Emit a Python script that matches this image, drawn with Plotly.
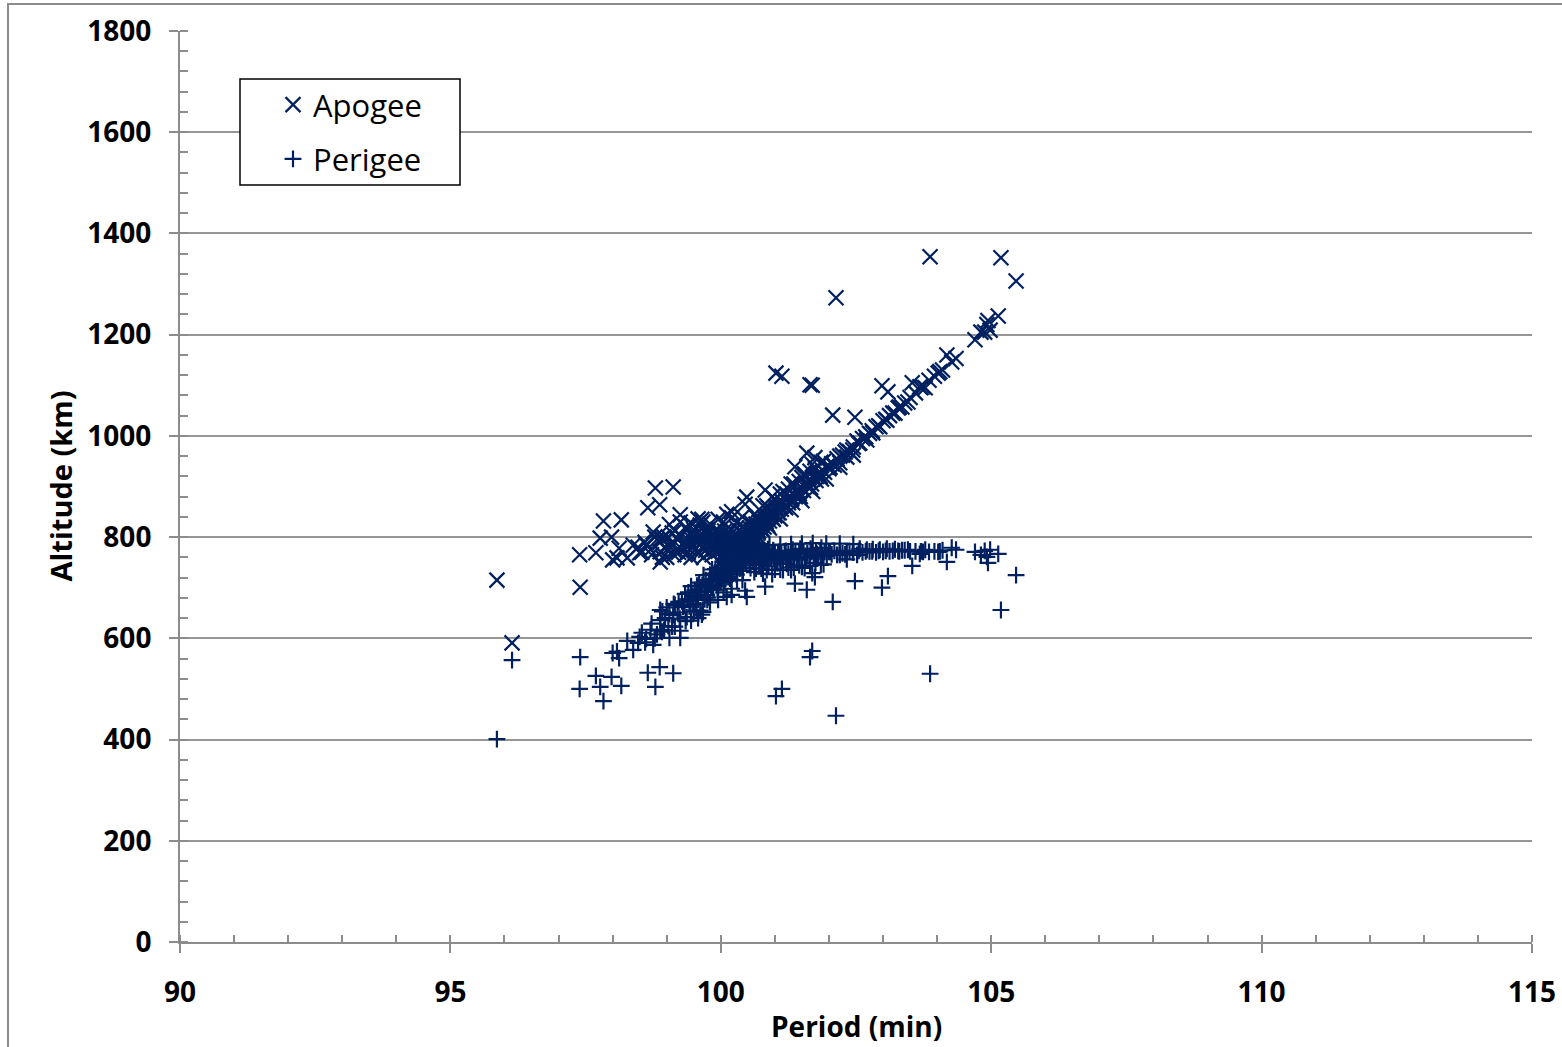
import plotly.graph_objects as go

# Each object: orbital period (min), apogee altitude (km), perigee altitude (km)
period_min = [
    95.86, 96.14, 97.40, 97.39, 97.69, 97.83, 97.77, 97.98, 98.16, 98.00,
    98.12, 98.27, 98.50, 98.47, 98.54, 98.65, 98.79, 98.87, 99.12, 99.25,
    98.88, 98.88, 98.88, 98.97, 98.78, 99.12, 99.30, 99.49, 99.58, 99.67,
    99.62, 99.37, 99.75, 99.86, 100.11, 100.48, 99.98, 100.82, 101.37, 101.59,
    101.69, 101.02, 101.13, 101.65, 101.69, 102.13, 103.87, 105.18, 105.46, 102.07,
    102.48, 102.98, 103.09, 103.54, 104.18, 104.27, 104.92, 104.81, 104.98, 105.13,
    104.94, 103.46, 103.74, 104.02, 103.68, 103.78, 103.35, 103.22, 103.07, 102.94,
    102.81, 102.70, 102.57, 102.44, 102.33, 102.33, 102.20, 101.74, 98.91, 98.08,
    98.38,
    # left band
    99.05, 99.15, 99.20, 99.28, 99.33, 99.40, 99.42, 99.48, 99.52, 99.55,
    99.60, 99.62, 99.66, 99.70, 99.72, 99.75, 99.78, 99.80, 99.82, 99.85,
    99.88, 99.90, 99.92, 99.95, 99.97, 100.00, 100.02, 100.04, 100.06, 100.08,
    100.10, 100.12, 100.14, 100.16, 100.18, 100.20, 100.22, 100.24, 100.26, 100.28,
    100.30, 100.32, 100.34, 100.36, 100.38, 100.40, 100.42, 100.44, 100.46,
    98.60, 98.70, 98.75, 98.95, 99.00, 99.10, 99.22, 99.35, 99.45, 99.50,
    99.58, 99.68, 99.76, 99.95, 100.05, 100.15, 100.25, 100.35,
    98.62, 98.72, 98.82, 98.92, 99.03, 99.13, 99.24, 99.34, 99.44, 99.54,
    99.64, 99.74, 99.84, 99.94, 99.70, 99.56, 99.38,
    99.05, 99.25, 99.45, 99.65, 99.80, 99.95, 100.05, 100.20, 99.15, 99.55,
    # right band
    100.52, 100.55, 100.58, 100.60, 100.62, 100.65, 100.68, 100.70, 100.72, 100.75,
    100.78, 100.80, 100.83, 100.85, 100.88, 100.90, 100.93, 100.95, 100.98, 101.00,
    101.03, 101.06, 101.09, 101.12, 101.15, 101.18, 101.21, 101.25, 101.28, 101.31,
    101.35, 101.38, 101.42, 101.45, 101.49, 101.53, 101.56, 101.60, 101.64, 101.68,
    101.72, 101.76, 101.80, 101.84, 101.88, 101.92, 101.96, 102.00, 102.05, 102.10,
    102.15, 102.25, 102.38, 102.52, 102.62, 102.75, 102.87, 103.00, 103.12, 103.28,
    103.40, 103.60, 103.85, 103.95, 104.05,
    100.70, 100.90, 101.10, 101.30, 101.50, 101.70, 101.95, 102.20, 102.45,
    # fan
    100.55, 100.62, 100.70, 100.78, 100.88, 100.95, 101.05, 101.15, 101.22, 101.30,
    101.45, 101.55, 101.75, 101.90, 100.40, 100.30, 100.20, 100.45,
    100.65, 100.75, 100.85, 101.00, 101.10, 101.25, 101.35, 101.50, 101.65, 101.85,
    # core
    100.45, 100.48, 100.50, 100.50, 100.53, 100.55, 100.58, 100.40, 100.43, 100.47,
    100.37, 100.52, 100.56, 100.60, 100.49,
    99.85, 99.90, 99.93, 99.96, 100.00, 100.03, 100.05, 100.07, 100.09, 100.11,
    100.13, 100.15, 100.17, 100.19, 100.21, 100.23, 100.25, 100.27, 100.29, 100.31,
    100.33, 100.35, 100.37, 100.39, 100.41, 100.43, 100.45, 100.47, 100.49, 100.51,
    100.53, 100.55, 100.57, 100.59, 100.61, 100.63, 100.65, 100.67, 100.69, 100.71,
    100.74, 100.77, 100.80, 100.84, 100.87, 100.92, 100.97, 101.02, 101.08, 101.14,
    101.20, 101.26, 101.33, 101.40, 101.47, 101.58, 101.66, 101.78, 101.86, 102.02,
    # right extra
    102.20, 102.30, 102.45, 102.55, 102.68, 102.80, 102.92, 103.05, 103.18, 103.30,
    103.50, 103.70, 104.10, 104.35, 104.70, 104.88,
]

apogee_km = [
    715, 591, 701, 765, 769, 832, 798, 800, 834, 755,
    778, 759, 769, 780, 770, 858, 897, 864, 899, 844,
    751, 790, 771, 778, 800, 786, 788, 800, 836, 830,
    824, 814, 815, 806, 845, 879, 800, 893, 939, 966,
    944, 1124, 1118, 1101, 1100, 1273, 1354, 1352, 1306, 1041,
    1037, 1099, 1087, 1105, 1160, 1146, 1220, 1205, 1209, 1237,
    1228, 1067, 1097, 1124, 1097, 1095, 1057, 1045, 1031, 1018,
    1006, 992, 986, 972, 958, 972, 947, 957, 798, 759,
    784,
    780, 772, 795, 776, 790, 770, 800, 782, 775, 792,
    768, 786, 778, 795, 774, 788, 781, 770, 798, 784,
    776, 792, 780, 772, 788, 778, 795, 784, 770, 790,
    780, 799, 786, 775, 792, 782, 770, 796, 786, 778,
    790, 782, 800, 788, 778, 792, 784, 796, 788,
    790, 775, 810, 800, 760, 808, 770, 820, 760, 815,
    800, 760, 812, 808, 765, 810, 765, 812,
    785, 765, 795, 760, 800, 765, 805, 765, 790, 805,
    790, 805, 765, 815, 810, 770, 780,
    825, 830, 828, 835, 826, 835, 830, 838, 812, 818,
    795, 800, 806, 798, 810, 805, 818, 812, 822, 815,
    828, 820, 833, 826, 840, 832, 845, 838, 850, 842,
    855, 848, 862, 855, 868, 860, 874, 868, 880, 875,
    885, 880, 892, 886, 898, 892, 905, 900, 912, 905,
    918, 912, 925, 920, 932, 928, 940, 935, 945, 942,
    955, 962, 969, 990, 995, 1005, 1018, 1030, 1040, 1055,
    1065, 1085, 1110, 1118, 1127,
    800, 818, 836, 854, 872, 890, 915, 938, 962,
    830, 845, 838, 862, 858, 880, 868, 890, 885, 905,
    910, 925, 935, 950, 840, 830, 850, 865,
    840, 850, 862, 875, 885, 895, 905, 918, 930, 948,
    782, 790, 786, 795, 790, 785, 795, 780, 790, 778,
    785, 780, 792, 788, 800,
    800, 770, 805, 790, 805, 775, 800, 812, 776, 806,
    790, 770, 815, 798, 785, 810, 792, 776, 818, 800,
    786, 776, 808, 795, 822, 805, 795, 812, 800, 790,
    818, 804, 796, 822, 812, 800, 826, 815, 808, 830,
    822, 815, 838, 830, 823, 845, 835, 860, 848, 870,
    858, 880, 868, 892, 880, 908, 898, 920, 915, 938,
    960, 968, 978, 985, 998, 1010, 1020, 1033, 1045, 1057,
    1076, 1095, 1130, 1153, 1190, 1205,
]

perigee_km = [
    401, 557, 563, 500, 526, 476, 504, 524, 506, 571,
    561, 595, 603, 591, 611, 532, 504, 543, 531, 601,
    656, 617, 636, 640, 600, 646, 662, 666, 640, 652,
    655, 642, 676, 696, 682, 682, 715, 702, 708, 696,
    729, 486, 500, 563, 575, 447, 530, 656, 725, 672,
    713, 700, 723, 743, 751, 779, 761, 765, 775, 767,
    749, 775, 771, 771, 767, 775, 774, 776, 777, 775,
    776, 775, 777, 770, 770, 756, 770, 721, 613, 574,
    577,
    648, 666, 651, 673, 664, 691, 663, 684, 695, 681,
    710, 694, 705, 692, 715, 703, 713, 726, 700, 717,
    728, 714, 728, 739, 725, 738, 723, 736, 752, 734,
    746, 729, 744, 757, 742, 754, 768, 744, 756, 766,
    756, 766, 750, 764, 776, 764, 774, 764, 774,
    592, 617, 587, 616, 661, 623, 672, 634, 703, 653,
    676, 725, 681, 703, 756, 721, 775, 738,
    599, 629, 608, 653, 624, 668, 639, 688, 673, 667,
    692, 686, 736, 696, 677, 704, 677,
    601, 615, 635, 647, 671, 676, 691, 698, 623, 655,
    771, 769, 766, 776, 766, 774, 763, 771, 763, 773,
    762, 773, 763, 772, 760, 770, 760, 769, 760, 769,
    759, 769, 758, 768, 757, 768, 757, 767, 758, 766,
    760, 770, 759, 768, 760, 770, 760, 768, 760, 771,
    763, 773, 762, 771, 763, 771, 763, 771, 766, 773,
    765, 768, 773, 765, 770, 772, 770, 771, 772, 773,
    774, 772, 771, 772, 772,
    783, 784, 785, 786, 787, 788, 787, 787, 786,
    739, 731, 745, 728, 742, 727, 748, 735, 747, 735,
    744, 739, 749, 746, 715, 715, 686, 694,
    738, 738, 735, 736, 736, 740, 740, 741, 743, 745,
    777, 772, 778, 769, 777, 784, 777, 774, 767, 783,
    766, 786, 778, 786, 763,
    702, 737, 705, 722, 711, 744, 721, 711, 749, 721,
    739, 761, 718, 736, 751, 728, 748, 766, 726, 746,
    762, 774, 744, 758, 733, 752, 764, 749, 763, 775,
    749, 765, 775, 751, 763, 776, 752, 765, 774, 754,
    765, 775, 755, 766, 776, 759, 774, 753, 771, 755,
    773, 756, 775, 758, 777, 760, 777, 767, 779, 771,
    765, 766, 770, 773, 772, 772, 773, 773, 773, 772,
    772, 772, 774, 775, 771, 773,
]

series_names = ["Apogee", "Perigee"]
x_ticks = [90, 95, 100, 105, 110, 115]
y_ticks = [0, 200, 400, 600, 800, 1000, 1200, 1400, 1600, 1800]

NAVY = "#002060"
GRID = "#969696"
AXIS = "#8c8c8c"
FONT = "Open Sans"

fig = go.Figure()
fig.add_trace(go.Scatter(
    x=period_min, y=apogee_km, mode="markers", name=series_names[0],
    legendgroup="a",
    marker=dict(symbol="x-thin", size=15, color=NAVY,
                line=dict(color=NAVY, width=2.2)),
))
fig.add_trace(go.Scatter(
    x=period_min, y=perigee_km, mode="markers", name=series_names[1],
    legendgroup="p",
    marker=dict(symbol="cross-thin", size=12, color=NAVY,
                line=dict(color=NAVY, width=2.2)),
))

W, H = 1562, 1047
L, R, T, B = 180, 30, 31, 105
pw, ph = W - L - R, H - T - B


def px_x(p):
    return (p - L) / pw


def px_y(p):
    return (H - B - p) / ph


fig.update_layout(
    width=W, height=H,
    margin=dict(l=L, r=R, t=T, b=B, pad=0, autoexpand=False),
    paper_bgcolor="white", plot_bgcolor="white",
    font=dict(family=FONT, color="black"),
    showlegend=True,
    legend=dict(
        x=px_x(273), y=px_y(78), xanchor="left", yanchor="top",
        bgcolor="rgba(0,0,0,0)", borderwidth=0,
        font=dict(family=FONT, size=31, color="black"),
        tracegroupgap=11, traceorder="grouped",
    ),
    xaxis=dict(
        range=[90, 115], tickvals=x_ticks, showgrid=False, zeroline=False,
        automargin=False,
        showline=True, linecolor=AXIS, linewidth=2,
        ticks="outside", ticklen=9, tickwidth=2, tickcolor=AXIS,
        tickfont=dict(family=FONT, size=28, color="black", weight="bold"),
        ticklabelstandoff=15,
        minor=dict(ticks="inside", dtick=1, ticklen=7, tickwidth=2,
                   tickcolor=AXIS, showgrid=False),
    ),
    yaxis=dict(
        range=[0, 1800], tickvals=y_ticks, showgrid=True, gridcolor=GRID,
        gridwidth=1.8, zeroline=False, automargin=False,
        showline=True, linecolor=AXIS, linewidth=2,
        ticks="outside", ticklen=9, tickwidth=2, tickcolor=AXIS,
        tickfont=dict(family=FONT, size=28, color="black", weight="bold"),
        ticklabelstandoff=12,
        minor=dict(ticks="inside", dtick=40, ticklen=8, tickwidth=2,
                   tickcolor=AXIS, showgrid=False),
    ),
    shapes=[
        dict(type="rect", xref="paper", yref="paper",
             x0=px_x(8), x1=px_x(1575), y0=px_y(1060), y1=px_y(4),
             line=dict(color=AXIS, width=2), fillcolor="rgba(0,0,0,0)",
             layer="below"),
        dict(type="rect", xref="paper", yref="paper",
             x0=px_x(240), x1=px_x(460), y0=px_y(185), y1=px_y(79),
             line=dict(color="black", width=1.5), fillcolor="white",
             layer="above"),
    ],
    annotations=[
        dict(text="Period (min)", xref="paper", yref="paper",
             x=0.5, y=px_y(1026), xanchor="center", yanchor="middle",
             showarrow=False,
             font=dict(family=FONT, size=28, color="black", weight="bold")),
        dict(text="Altitude (km)", xref="paper", yref="paper",
             x=px_x(60), y=0.5, xanchor="center", yanchor="middle",
             textangle=-90, showarrow=False,
             font=dict(family=FONT, size=29, color="black", weight="bold")),
    ],
)

fig.write_html("out.html")
